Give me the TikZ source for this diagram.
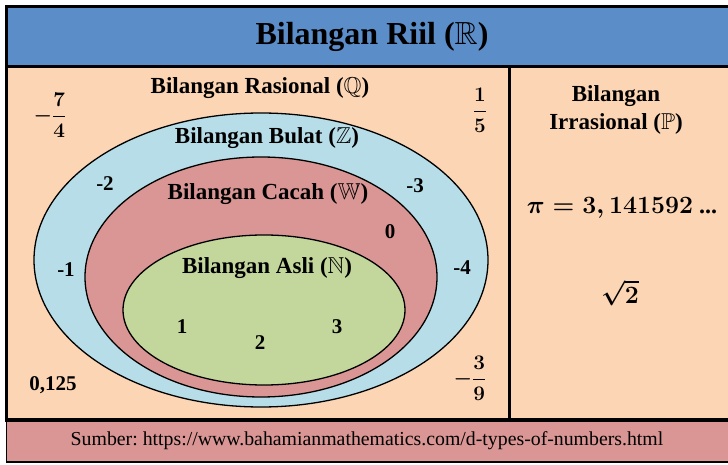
\documentclass[tikz,border=0pt]{standalone}
\usepackage{amsmath,amssymb}
\usepackage{fontspec}
\setmainfont{Liberation Serif}
\usetikzlibrary{positioning,shapes.geometric}
\definecolor{Riil}{HTML}{5B8DC9}
\definecolor{Rasional}{HTML}{FCD5B4}
\definecolor{Bulat}{HTML}{B7DEE8}
\definecolor{Cacah}{HTML}{D99694}
\definecolor{Asli}{HTML}{C3D69B}
\definecolor{Sumber}{HTML}{D99694}

\begin{document}
\begin{tikzpicture}[x=1pt,y=-1pt,
  himpunan/.style={ellipse,draw,line width=1.3pt,inner sep=0pt},
  judul/.style={font=\fontsize{23}{28}\selectfont\bfseries,inner sep=0pt},
  angka/.style={font=\fontsize{21}{24}\selectfont\bfseries\boldmath,inner sep=0pt}]
  \useasboundingbox (0,0) rectangle (728,465);
  \clip (0,0) rectangle (728,465);
  \fill[white] (0,0) rectangle (728,465);
  % kotak utama
  \draw[line width=3pt,fill=Riil] (6.5,6.5) rectangle (740,66.5);
  \draw[line width=3pt,fill=Rasional] (6.5,66.5) rectangle (740,420);
  \draw[line width=1.5pt,fill=Sumber] (6.5,420) rectangle (740,462);
  \draw[line width=3.5pt] (5,420) -- (740,420);
  \draw[line width=3pt] (509.5,66.5) -- (509.5,420);

  % himpunan bersarang
  \node[himpunan,fill=Bulat,minimum width=454pt,minimum height=294pt] (bulat) at (261,260) {};
  \node[himpunan,fill=Cacah,minimum width=352pt,minimum height=240pt] (cacah) at (261,277) {};
  \node[himpunan,fill=Asli,minimum width=282pt,minimum height=150pt] (asli) at (264,310) {};

  % label
  \node[font=\fontsize{32}{36}\selectfont\bfseries] (riil) at (372,37) {Bilangan Riil ($\mathbb{R}$)};
  \node[judul] (rasional) at (260,88) {Bilangan Rasional ($\mathbb{Q}$)};
  \node[judul] (lblbulat) at (267,138) {Bilangan Bulat ($\mathbb{Z}$)};
  \node[judul] (lblcacah) at (268,194) {Bilangan Cacah ($\mathbb{W}$)};
  \node[judul] (lblasli) at (267,268) {Bilangan Asli ($\mathbb{N}$)};
  \node[judul,align=center] (irrasional) at (616,110) {Bilangan\\Irrasional ($\mathbb{P}$)};

  % anggota
  \node[angka] (n7per4) at (50,115) {$-\displaystyle\frac{7}{4}$};
  \node[angka] (n1per5) at (480,110) {$\displaystyle\frac{1}{5}$};
  \node[angka] (nmin2) at (105,184) {-2};
  \node[angka] (nmin3) at (415,186) {-3};
  \node[angka] (nnol) at (390,232) {0};
  \node[angka] (nmin1) at (66,270) {-1};
  \node[angka] (nmin4) at (462,268) {-4};
  \node[angka] (nsatu) at (182,327) {1};
  \node[angka] (ndua) at (260,343) {2};
  \node[angka] (ntiga) at (337,327) {3};
  \node[angka] (ndesimal) at (53,385) {0,125};
  \node[angka] (n3per9) at (470,378) {$-\displaystyle\frac{3}{9}$};
  \node[angka,font=\fontsize{24}{28}\selectfont\bfseries\boldmath] (npi) at (622,208) {$\pi = 3,141592$ ...};
  \node[angka,font=\fontsize{24}{28}\selectfont\boldmath] (nakar) at (620,293) {$\sqrt{2}$};

  % sumber
  \node[font=\fontsize{19.8}{22}\selectfont\frenchspacing,inner sep=0pt] (sumber) at (367,441)
    {Sumber: https://www.bahamianmathematics.com/d-types-of-numbers.html};
\end{tikzpicture}
\end{document}
